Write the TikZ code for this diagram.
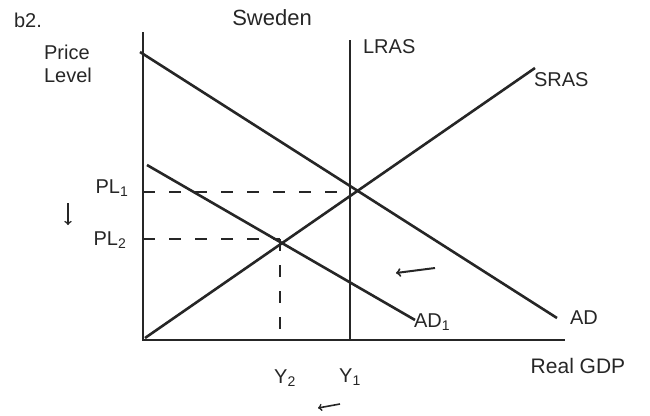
\documentclass[tikz,border=0pt]{standalone}
\usepackage{fontspec}
\setmainfont{Liberation Sans}
\usepackage{tikz}
\usepackage{xcolor}

\begin{document}
\begin{tikzpicture}[x=1pt, y=-1pt, line width=2.2pt, color=black!85,
  curve/.style={line width=2.6pt},
  guide/.style={dash pattern=on 12pt off 14pt, line width=2pt},
  lbl/.style={font=\fontsize{20}{23}\selectfont, inner sep=1pt}]
\useasboundingbox (0,0) rectangle (650,415);
% axes
\coordinate (O) at (143,340);
\draw (143,32) -- (O) -- (565,340);
\node[lbl] (b2) at (28,20) {b2.};
\node[lbl, align=left] (plabel) at (68,64) {Price\\Level};
\node[lbl, font=\fontsize{22}{22}\selectfont] (title) at (272,18) {Sweden};
\node[lbl, font=\fontsize{21}{21}\selectfont] (xlabel) at (578,366) {Real GDP};
% curves
\draw[curve] (350,40) -- (350,340);
\node[lbl, anchor=west] (lras) at (361,47) {LRAS};
\draw[curve] (145,338) -- (535,68);
\node[lbl, anchor=west] (sras) at (532,80) {SRAS};
\draw[curve] (140,52) -- (557,318);
\node[lbl, anchor=west] (ad) at (568,318) {AD};
\draw[curve] (147,165) -- (415,320);
\node[lbl, anchor=west] (ad1) at (412,322) {AD\textsubscript{1}};
% equilibria
\coordinate (E1) at (347,192);
\coordinate (E2) at (280,239);
\draw[guide] (O |- E1) -- (E1);
\draw[guide] (O |- E2) -- (E2);
\draw[guide] (E2) -- (E2 |- O);
\node[lbl] (pl1) at (112,188) {PL\textsubscript{1}};
\node[lbl] (pl2) at (110,240) {PL\textsubscript{2}};
\node[lbl] (y2) at (285,378) {Y\textsubscript{2}};
\node[lbl] (y1) at (350,377) {Y\textsubscript{1}};
% shift arrows
\draw[->, line width=1.6pt] (68,203) -- (68,225);
\draw[->, line width=2pt] (435,268) -- (396,273);
\draw[->, line width=1.6pt] (340,404) -- (318,408);
\end{tikzpicture}
\end{document}
